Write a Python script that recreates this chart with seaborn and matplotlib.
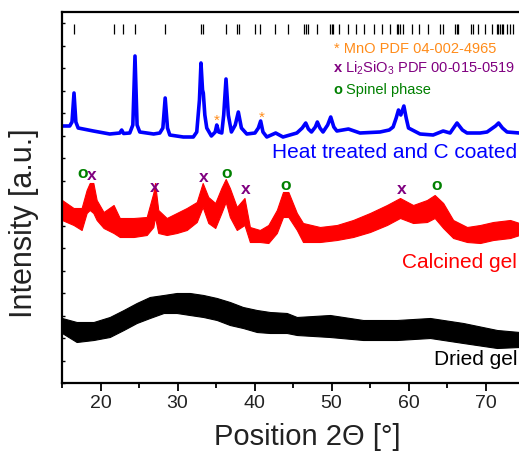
import numpy as np
import pandas as pd
import seaborn as sns
import matplotlib.pyplot as plt

# -----------------------------
# XRD DATA (intensity in a.u.)
# -----------------------------
two_theta_coated = [15.0, 16.0, 16.3, 16.56, 16.8, 17.1, 19.07, 21.2, 22.5, 22.75, 23.0, 23.8,
                    24.2, 24.48, 24.75, 25.1, 26.9, 27.7, 28.1, 28.4, 28.7, 29.0, 30.75, 32.05,
                    32.5, 32.85, 33.05, 33.25, 33.35, 33.55, 33.8, 34.4, 34.9, 35.1, 35.35, 35.75,
                    36.0, 36.3, 36.6, 37.0, 37.5, 37.9, 38.3, 39.0, 40.06, 40.5, 40.8, 41.1,
                    41.6, 42.75, 43.7, 44.6, 45.5, 46.2, 46.65, 47.0, 47.4, 47.9, 48.16, 48.5,
                    48.9, 49.5, 49.9, 50.3, 50.7, 52.2, 53.7, 56.3, 57.5, 58.0, 58.4, 58.7,
                    59.0, 59.4, 59.7, 60.0, 61.5, 63.2, 64.5, 65.4, 66.3, 67.0, 67.6, 69.3,
                    70.2, 71.3, 71.7, 72.2, 72.8, 74.4]
int_coated = [257, 257, 261, 290, 261, 255, 252, 249, 250, 253, 249.5, 250,
              258, 327, 258, 251, 249, 250, 255, 285, 255, 248, 246, 246,
              251, 283, 320, 293, 290, 268, 255, 247, 251, 258, 251, 250,
              268, 304, 268, 251, 258, 271, 255, 249, 250, 255, 262, 251,
              246, 250, 246, 248, 250, 255, 260, 254, 251, 256, 261, 255,
              251, 258, 266, 256, 252, 254, 250, 251, 253, 256, 265, 273,
              268, 277, 265, 255, 249, 248, 252, 250, 260, 253, 250, 250,
              251, 257, 260, 255, 251, 250]

two_theta_calc = [15.0, 16.5, 17.55, 18.2, 18.6, 19.07, 19.5, 20.4, 21.7, 22.5, 24.3, 26.0,
                  26.86, 27.08, 27.5, 28.6, 29.9, 31.2, 32.5, 33.27, 34.0, 34.9, 35.7, 36.26,
                  36.8, 37.7, 38.7, 39.4, 40.7, 41.8, 42.9, 43.7, 44.4, 45.5, 46.3, 48.5,
                  50.7, 52.8, 55.0, 57.2, 58.9, 60.6, 62.4, 63.4, 64.5, 65.8, 67.6, 69.3,
                  71.0, 73.2, 74.4]
calc_upper = [183, 175, 175, 193, 200, 200, 183, 171, 178, 165, 165, 166,
              190, 200, 173, 165, 170, 175, 181, 200, 186, 180, 195, 204,
              195, 176, 185, 156, 153, 158, 173, 191, 191, 170, 160, 156,
              158, 163, 170, 178, 185, 178, 183, 188, 180, 163, 156, 158,
              161, 163, 160]
calc_lower = [163, 158, 153, 170, 173, 170, 163, 155, 150, 146, 146, 148,
              156, 166, 150, 148, 150, 153, 161, 176, 160, 155, 170, 181,
              166, 153, 158, 141, 141, 140, 150, 166, 166, 153, 141, 141,
              143, 146, 151, 158, 165, 160, 161, 165, 155, 145, 141, 140,
              143, 145, 148]

two_theta_dried = [15.0, 16.9, 19.1, 21.2, 23.0, 24.7, 26.4, 28.2, 29.9, 31.6, 33.35, 35.1,
                   36.8, 38.5, 40.3, 42.0, 44.2, 45.5, 49.8, 54.1, 58.5, 62.8, 67.1, 71.5,
                   74.4]
dried_upper = [65, 61, 61, 66, 73, 80, 86, 88, 90, 90, 88, 85,
               81, 76, 73, 71, 70, 66, 68, 63, 63, 65, 60, 53, 51]
dried_lower = [50, 41, 43, 46, 53, 60, 65, 70, 70, 68, 66, 63,
               58, 55, 51, 50, 50, 48, 46, 43, 43, 45, 40, 35, 36]

# reference pattern sticks (top row)
ref_positions = [16.56, 21.75, 22.88, 24.48, 28.38, 33.0, 33.35, 36.26, 37.68, 38.0,
                 40.06, 40.71, 42.66, 44.3, 46.47, 46.65, 46.99, 48.16, 49.8, 50.02,
                 50.23, 50.97, 52.19, 53.14, 54.27, 55.57, 56.52, 57.6, 58.46, 58.68,
                 58.9, 59.33, 60.5, 61.36, 62.49, 64.1, 64.53, 66.04, 66.25, 66.38,
                 68.07, 68.4, 68.97, 69.94, 70.8, 71.45, 71.66, 71.88, 72.1, 72.3,
                 72.73, 73.18, 73.6]

# phase markers on the calcined gel pattern
li2sio3_pos = [18.9, 27.1, 33.4, 38.9, 59.1]
li2sio3_int = [208, 196, 205, 194, 194]
spinel_pos = [17.7, 36.4, 44.1, 63.6]
spinel_int = [209, 209, 197, 198]
mno_pos = [35.1, 40.9]
mno_int = [262, 265]

# -----------------------------
# STYLE
# -----------------------------
sns.set_theme(style="ticks")
plt.rcParams["font.family"] = ["Liberation Sans", "DejaVu Sans"]
plt.rcParams["mathtext.fontset"] = "custom"
plt.rcParams["mathtext.rm"] = "Liberation Sans"

fig = plt.figure(figsize=(5.19, 4.51), dpi=100)
ax = fig.add_axes([62 / 519, 68 / 451, 462 / 519, 371 / 451])

# dried gel
ax.fill_between(two_theta_dried, dried_lower, dried_upper, color="black", lw=0.8)
# calcined gel
ax.fill_between(two_theta_calc, calc_lower, calc_upper, color="red", lw=0.8)
# heat treated and C coated
df_coated = pd.DataFrame({"2theta": two_theta_coated, "I": int_coated})
sns.lineplot(data=df_coated, x="2theta", y="I", color="blue", lw=2.6, ax=ax)

# reference sticks
ax.vlines(ref_positions, 349, 359, color="black", lw=0.9)

# markers
for x, y in zip(li2sio3_pos, li2sio3_int):
    ax.text(x, y, "x", color="purple", fontsize=12.5, fontweight="bold",
            ha="center", va="center")
for x, y in zip(spinel_pos, spinel_int):
    ax.text(x, y, "o", color="green", fontsize=12.5, fontweight="bold",
            ha="center", va="center")
for x, y in zip(mno_pos, mno_int):
    ax.text(x, y, "*", color="#FF8C1A", fontsize=11, ha="center", va="center")

# legend-like annotations
ax.text(50.3, 334, "* MnO PDF 04-002-4965", color="#FF8C1A", fontsize=10.5, va="center")
ax.text(50.3, 315, "x", color="purple", fontsize=10.5, fontweight="bold", va="center")
ax.text(51.7, 315, r"Li$_2$SiO$_3$ PDF 00-015-0519", color="purple", fontsize=10.5,
        va="center")
ax.text(50.3, 293, "o", color="green", fontsize=10.5, fontweight="bold", va="center")
ax.text(51.9, 293, "Spinel phase", color="green", fontsize=10.5, va="center")

# curve labels
ax.text(74.1, 225, "Heat treated and C coated", color="blue", fontsize=15,
        ha="right", va="baseline")
ax.text(74.1, 115, "Calcined gel", color="red", fontsize=15, ha="right", va="baseline")
ax.text(74.1, 18, "Dried gel", color="black", fontsize=15, ha="right", va="baseline")

# axes
ax.set_xlim(15, 75)
ax.set_ylim(0, 371)
ax.set_xticks([20, 30, 40, 50, 60, 70])
ax.set_xticks([15, 25, 35, 45, 55, 65, 75], minor=True)
ax.set_yticks(np.arange(0, 371, 22.5))
ax.set_yticklabels([])
ax.tick_params(axis="x", which="major", direction="out", length=5.5, width=1.3,
               labelsize=14, color="black", labelcolor="#222222")
ax.tick_params(axis="x", which="minor", direction="out", length=3.5, width=1.3, color="black")
ax.tick_params(axis="y", direction="in", length=2.5, width=1, color="black")
for side in ["left", "bottom", "top"]:
    ax.spines[side].set_visible(True)
    ax.spines[side].set_linewidth(1.6)
    ax.spines[side].set_color("black")
ax.spines["right"].set_visible(False)

ax.set_xlabel("Position 2\u0398 [\u00b0]", fontsize=21, color="#222222", va="center")
ax.xaxis.set_label_coords(0.532, -0.146)
ax.set_ylabel("Intensity [a.u.]", fontsize=22, color="#222222", va="center")
ax.yaxis.set_label_coords(-0.083, 0.431)

fig.savefig("out.png", dpi=100)
